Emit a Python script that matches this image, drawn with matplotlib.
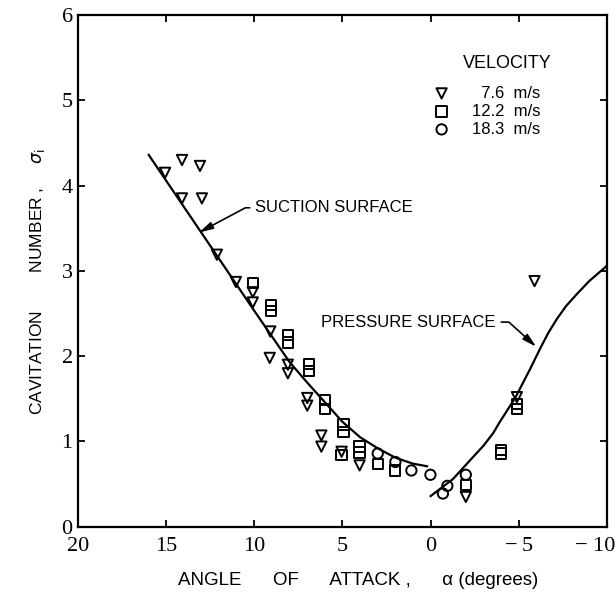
import matplotlib
matplotlib.use("Agg")
import matplotlib.pyplot as plt
from matplotlib.transforms import ScaledTranslation

# ---- data ----
tri_x = [15.07, 14.11, 13.09, 14.11, 12.98, 12.13, 11.05, 10.09, 10.09, 9.1, 9.13,
         8.1, 8.1, 7.0, 7.0, 6.2, 6.2, 5.05, 4.03, -2.0, -5.9, -4.9]
tri_y = [4.15, 4.30, 4.23, 3.85, 3.85, 3.19, 2.87, 2.75, 2.63, 2.29, 1.98,
         1.90, 1.80, 1.51, 1.42, 1.07, 0.94, 0.88, 0.72, 0.35, 2.88, 1.52]

sq_x = [10.09, 9.07, 9.07, 8.1, 8.1, 6.92, 6.92, 6.0, 6.0, 4.94, 4.94, 5.05,
        4.03, 4.03, 3.0, 2.0, -2.0, -4.0, -4.0, -4.9, -4.9]
sq_y = [2.86, 2.60, 2.53, 2.25, 2.16, 1.91, 1.83, 1.49, 1.38, 1.20, 1.11, 0.84,
        0.94, 0.87, 0.74, 0.66, 0.49, 0.90, 0.86, 1.44, 1.38]

circ_x = [3.0, 2.0, 1.09, 0.01, -0.7, -0.95, -2.0]
circ_y = [0.86, 0.76, 0.66, 0.61, 0.39, 0.48, 0.61]

suction_x = [16.0, 14, 12, 10, 9, 8, 7, 6, 5, 4, 3, 2, 1, 0.2]
suction_y = [4.36, 3.75, 3.14, 2.53, 2.23, 1.93, 1.69, 1.46, 1.23, 1.05, 0.92,
             0.81, 0.74, 0.71]

pressure_x = [0.0, -1.27, -2.42, -3.0, -3.56, -3.9, -4.8, -5.65, -6.22, -6.7, -7.18,
              -7.7, -8.31, -9.0, -9.84, -10.0]
pressure_y = [0.36, 0.56, 0.82, 0.95, 1.10, 1.22, 1.51, 1.85, 2.09, 2.28, 2.44,
              2.59, 2.73, 2.88, 3.03, 3.06]

x_ticks = [20, 15, 10, 5, 0, -5, -10]
x_ticklabels = ["20", "15", "10", "5", "0", "\u2212\u20095", "\u2212 10"]
y_ticks = [0, 1, 2, 3, 4, 5, 6]

legend_title = "VELOCITY"
legend_labels = ["\u20077.6  m/s", "12.2  m/s", "18.3  m/s"]

SANS = ["Liberation Sans", "DejaVu Sans"]
SERIF = ["Liberation Serif", "DejaVu Serif"]

fig = plt.figure(figsize=(6.16, 6.0), dpi=100)
ax = fig.add_axes([0.127, 0.122, 0.858, 0.853])

ax.plot(suction_x, suction_y, color="black", lw=1.6)
ax.plot(pressure_x, pressure_y, color="black", lw=1.6)

mk = dict(facecolors="none", edgecolors="black", linewidths=1.4, s=55, zorder=3)
h1 = ax.scatter(tri_x, tri_y, marker="v", **mk)
h2 = ax.scatter(sq_x, sq_y, marker="s", **mk)
h3 = ax.scatter(circ_x, circ_y, marker="o", **mk)

ax.set_xlim(20, -10)
ax.set_ylim(0, 6)
ax.set_xticks(x_ticks)
ax.set_xticklabels(x_ticklabels, family=SERIF, fontsize=16)
ax.set_yticks(y_ticks)
ax.set_yticklabels([str(v) for v in y_ticks], family=SERIF, fontsize=16)
ax.tick_params(direction="in", length=5, width=1.3, top=True, right=True)
ax.tick_params(axis="x", pad=7)
ax.tick_params(axis="y", pad=4)
last = ax.get_xticklabels()[-1]
last.set_ha("right")
last.set_transform(last.get_transform() + ScaledTranslation(0.09, 0, fig.dpi_scale_trans))
for s in ax.spines.values():
    s.set_linewidth(1.6)

ax.set_xlabel("ANGLE      OF      ATTACK ,      \u03b1 (degrees)", family=SANS,
              fontsize=13.5)
ax.xaxis.set_label_coords(0.53, -0.088)
ax.set_ylabel("CAVITATION        NUMBER ,     $\\sigma_{\\rm i}$", family=SANS,
              fontsize=12.5)
ax.yaxis.set_label_coords(-0.060, 0.48)

ap = dict(arrowstyle="-|>,head_length=0.7,head_width=0.18", color="black", lw=1.2,
          shrinkA=2, shrinkB=0)
ax.annotate("SUCTION SURFACE", xy=(13.15, 3.45), xytext=(9.95, 3.74),
            family=SANS, fontsize=12, ha="left", va="center",
            arrowprops=dict(connectionstyle="angle,angleA=0,angleB=28,rad=0", **ap))
ax.annotate("PRESSURE SURFACE", xy=(-6.0, 2.11), xytext=(-3.7, 2.40),
            family=SANS, fontsize=12, ha="right", va="center",
            arrowprops=dict(connectionstyle="angle,angleA=0,angleB=138,rad=0", **ap))

ax.text(0.728, 0.906, legend_title, transform=ax.transAxes, family=SANS,
        fontsize=13, ha="left", va="center")
leg = ax.legend([h1, h2, h3], legend_labels, frameon=False,
                loc="upper left", bbox_to_anchor=(0.656, 0.878), borderpad=0,
                prop={"family": SANS, "size": 12},
                handletextpad=1.3, labelspacing=0.18, handlelength=1.0)

fig.savefig("out.png", dpi=100)
